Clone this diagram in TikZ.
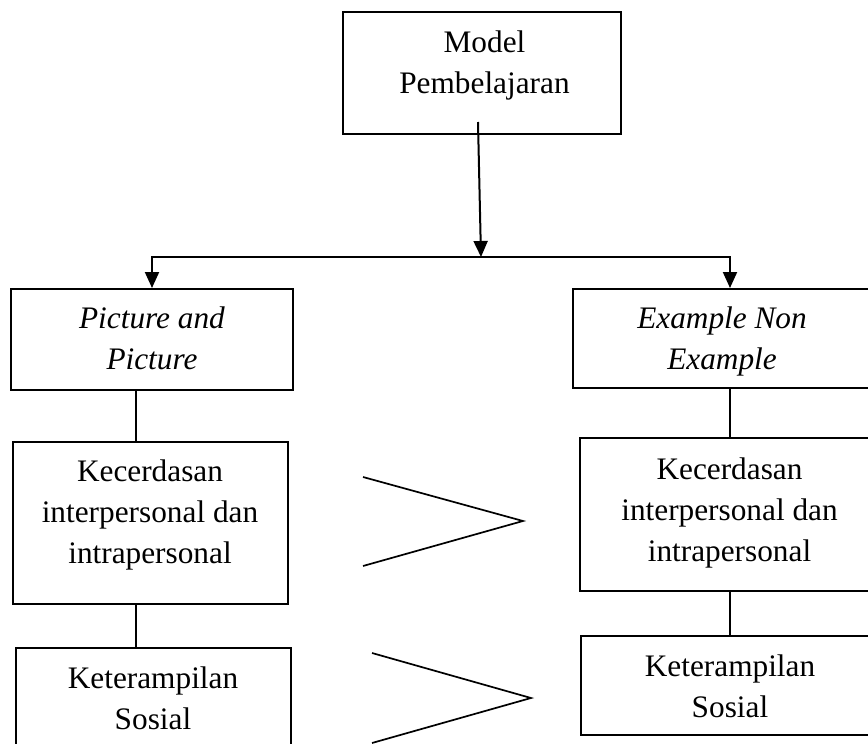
\documentclass[tikz,border=0pt]{standalone}
\usepackage{fontspec}
\setmainfont{Liberation Serif}
\usetikzlibrary{arrows.meta}
\setlength\tabcolsep{0pt}
\newcommand{\lines}[1]{\begin{tabular}[t]{c}#1\end{tabular}}
\begin{document}
\begin{tikzpicture}[x=1pt,y=-1pt,
  box/.style={draw,line width=2pt,rectangle,inner sep=0pt},
  txt/.style={anchor=base,inner sep=0pt,font=\fontsize{31.3}{41}\selectfont},
  conn/.style={line width=2pt},
  arr/.style={line width=2pt,-{Triangle[width=14pt,length=16pt]}},
  gt/.style={line width=1.7pt}]
\useasboundingbox (0,0) rectangle (868,744);
\clip (0,0) rectangle (868,744);
% boxes
\node[box,minimum width=278pt,minimum height=122pt] (top) at (482,73) {};
\node[box,minimum width=282pt,minimum height=101pt] (pic) at (152,339.5) {};
\node[box,minimum width=314pt,minimum height=99pt] (exa) at (730,338.5) {};
\node[box,minimum width=275pt,minimum height=162pt] (kl) at (150.5,523) {};
\node[box,minimum width=300pt,minimum height=153pt] (kr) at (730,514.5) {};
\node[box,minimum width=275pt,minimum height=142pt] (sl) at (153.5,719) {};
\node[box,minimum width=298pt,minimum height=99pt] (sr) at (730,685.5) {};
% texts
\node[txt] (ttop) at (484.5,52) {\lines{Model\\Pembelajaran}};
\node[txt] (tpic) at (152,328) {\lines{\textit{Picture and}\\\textit{Picture}}};
\node[txt] (texa) at (722,328) {\lines{\textit{Example Non}\\\textit{Example}}};
\node[txt] (tkl) at (150,481) {\lines{Kecerdasan\\interpersonal dan\\intrapersonal}};
\node[txt] (tkr) at (729.5,479) {\lines{Kecerdasan\\interpersonal dan\\intrapersonal}};
\node[txt] (tsl) at (153,688) {\lines{Keterampilan\\Sosial}};
\node[txt] (tsr) at (730,676) {\lines{Keterampilan\\Sosial}};
% connectors
\coordinate (a0) at (478,122);
\coordinate (hM) at (481,257);
\coordinate (hL) at (152,257);
\coordinate (hR) at (730,257);
\coordinate (vl) at (136,0);
\draw[arr] (a0) -- (hM);
\draw[conn] ([xshift=-1pt]hL) -- ([xshift=1pt]hR);
\draw[arr] (hL) -- (pic.north);
\draw[arr] (hR) -- (exa.north);
\draw[conn] (vl |- pic.south) -- (vl |- kl.north);
\draw[conn] (vl |- kl.south) -- (vl |- sl.north);
\draw[conn] (exa.south) -- (kr.north);
\draw[conn] (kr.south) -- (sr.north);
% comparison signs
\draw[gt] (363,477) -- (523,521) -- (363,566);
\draw[gt] (372,653) -- (531,698) -- (372,743);
\end{tikzpicture}
\end{document}
